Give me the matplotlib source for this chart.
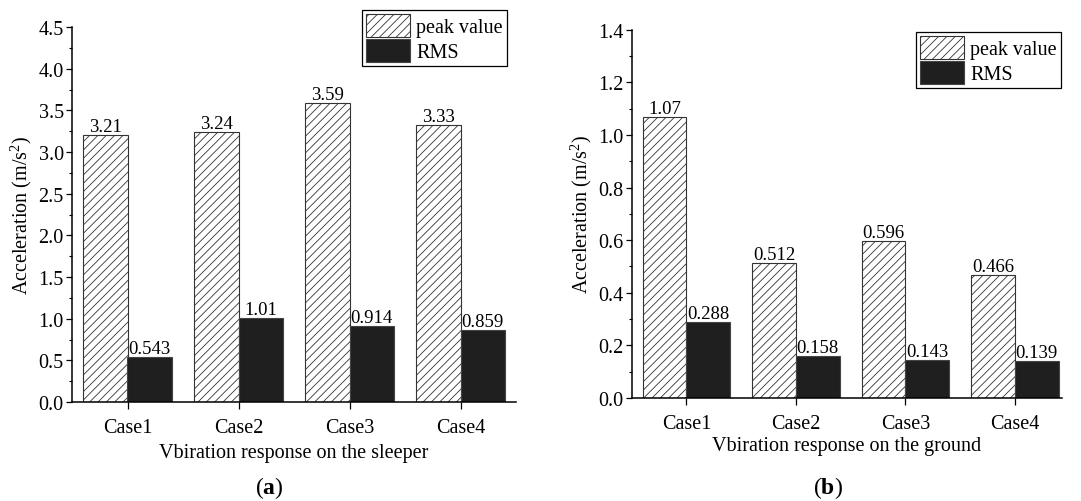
import matplotlib
matplotlib.use("Agg")
import matplotlib.pyplot as plt
from matplotlib.patches import Patch
from matplotlib.ticker import MultipleLocator, FormatStrFormatter

plt.rcParams["font.family"] = ["Liberation Serif", "DejaVu Serif"]
plt.rcParams["mathtext.fontset"] = "custom"
plt.rcParams["mathtext.rm"] = "Liberation Serif"
plt.rcParams["mathtext.bf"] = "Liberation Serif:bold"
plt.rcParams["hatch.linewidth"] = 0.6
plt.rcParams["hatch.color"] = "#222222"

cases = ["Case1", "Case2", "Case3", "Case4"]

sleeper_peak = [3.21, 3.24, 3.59, 3.33]
sleeper_rms = [0.543, 1.01, 0.914, 0.859]
sleeper_peak_labels = ["3.21", "3.24", "3.59", "3.33"]
sleeper_rms_labels = ["0.543", "1.01", "0.914", "0.859"]

ground_peak = [1.07, 0.512, 0.596, 0.466]
ground_rms = [0.288, 0.158, 0.143, 0.139]
ground_peak_labels = ["1.07", "0.512", "0.596", "0.466"]
ground_rms_labels = ["0.288", "0.158", "0.143", "0.139"]

W, H = 1081, 502
fig = plt.figure(figsize=(W / 100, H / 100), dpi=100)

FS = 14.5
VAL_FS = 13.5
BAR_W = 0.4
RMS_COLOR = "#1f1f1f"


def panel(rect, peak, rms, peak_lbl, rms_lbl, ymax, major, minor, fmt,
          xmax, xlabel, xlabelpad, legend_box):
    ax = fig.add_axes(rect)
    x = list(range(1, len(cases) + 1))
    xp = [v - BAR_W / 2 for v in x]
    xr = [v + BAR_W / 2 for v in x]
    ax.bar(xp, peak, BAR_W, facecolor="white", edgecolor="#333333",
           linewidth=0.8, hatch="////", zorder=2)
    ax.bar(xr, rms, BAR_W, facecolor=RMS_COLOR, edgecolor="#444444",
           linewidth=0.8, zorder=2)
    for xi, v, t in zip(xp, peak, peak_lbl):
        ax.text(xi, v, t, ha="center", va="bottom", fontsize=VAL_FS)
    for xi, v, t in zip(xr, rms, rms_lbl):
        ax.text(xi, v, t, ha="center", va="bottom", fontsize=VAL_FS)

    ax.set_xlim(0.5, xmax)
    ax.set_ylim(0, ymax)
    ax.set_xticks(x)
    ax.set_xticklabels(cases, fontsize=FS)
    ax.yaxis.set_major_locator(MultipleLocator(major))
    ax.yaxis.set_minor_locator(MultipleLocator(minor))
    ax.yaxis.set_major_formatter(FormatStrFormatter(fmt))
    ax.tick_params(axis="y", labelsize=FS, direction="out", length=4,
                   width=0.9, pad=2)
    ax.tick_params(axis="y", which="minor", direction="out", length=2.5,
                   width=0.8)
    ax.tick_params(axis="x", direction="out", length=5, width=0.9, pad=6.5)
    for s in ("top", "right"):
        ax.spines[s].set_visible(False)
    for s in ("left", "bottom"):
        ax.spines[s].set_linewidth(1.1)
    ax.set_ylabel("Acceleration (m/s$^2$)", fontsize=FS, labelpad=3)
    ax.set_xlabel(xlabel, fontsize=FS, labelpad=xlabelpad)

    handles = [
        Patch(facecolor="white", edgecolor="#333333", hatch="////",
              linewidth=0.8, label="peak value"),
        Patch(facecolor=RMS_COLOR, edgecolor="#444444", linewidth=0.8,
              label="RMS"),
    ]
    leg = ax.legend(handles=handles, loc="upper right",
                    bbox_to_anchor=legend_box,
                    bbox_transform=fig.transFigure, fontsize=FS,
                    frameon=True, fancybox=False, framealpha=1,
                    edgecolor="black", handlelength=2.2, handleheight=1.35,
                    handletextpad=0.3, borderpad=0.2, labelspacing=0.1,
                    borderaxespad=0)
    leg.get_frame().set_linewidth(0.9)
    return ax


panel([72 / W, 1 - 403 / H, 444 / W, 375 / H],
      sleeper_peak, sleeper_rms, sleeper_peak_labels, sleeper_rms_labels,
      4.5, 0.5, 0.25, "%.1f", 4.5,
      "Vbiration response on the sleeper", 4.5, (507 / W, 1 - 11 / H))

panel([631.7 / W, 1 - 399 / H, 430 / W, 368.3 / H],
      ground_peak, ground_rms, ground_peak_labels, ground_rms_labels,
      1.4, 0.2, 0.1, "%.1f", 0.5 + 430 / 109.5,
      "Vbiration response on the ground", 2.5, (1061 / W, 1 - 33 / H))

fig.text(269 / W, 1 - 488 / H, r"($\mathbf{a}$)", ha="center", va="center",
         fontsize=17)
fig.text(828 / W, 1 - 488 / H, r"($\mathbf{b}$)", ha="center", va="center",
         fontsize=17)

fig.savefig("out.png", dpi=100)
